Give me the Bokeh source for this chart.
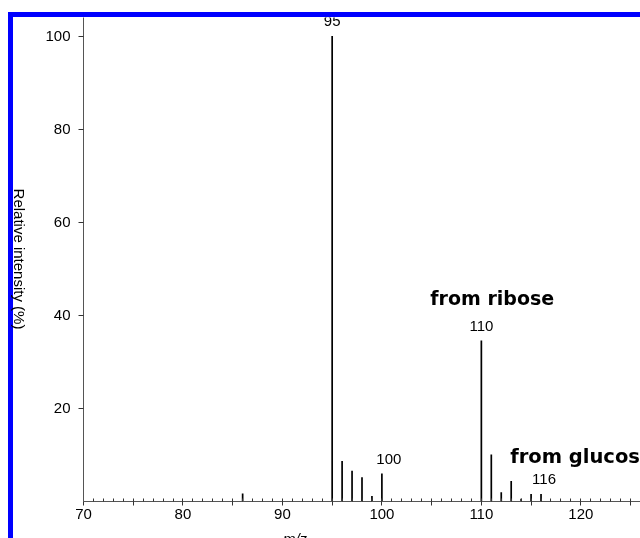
from bokeh.plotting import figure
from bokeh.models import ColumnDataSource, FixedTicker, Label, Range1d, Div
from bokeh.core.properties import value
from bokeh.embed import file_html
from bokeh.resources import INLINE

# ---- data ----
mz = [86, 95, 96, 97, 98, 99, 100, 110, 111, 112, 113, 114, 115, 116]
intensity = [1.7, 100, 8.7, 6.6, 5.2, 1.2, 6.0, 34.6, 10.1, 2.0, 4.4, 0.6, 1.6, 1.6]

peak_label_mz = [95, 100, 110, 116]
peak_label_text = ["95", "100", "110", "116"]
peak_label_x = [95, 100.7, 110, 116.3]

x_ticks = [70, 75, 80, 85, 90, 95, 100, 105, 110, 115, 120, 125]
x_tick_labels = {70: "70", 80: "80", 90: "90", 100: "100", 110: "110", 120: "120"}
y_ticks = [20, 40, 60, 80, 100]
y_title = "Relative intensity (%)"
x_title = "m/z"

FONT = "Liberation Sans"

p = figure(frame_width=557, frame_height=484, output_backend="svg", toolbar_location=None,
           x_range=Range1d(70, 126), y_range=Range1d(0, 104),
           min_border_left=70, min_border_right=0, min_border_top=0, min_border_bottom=37)
p.styles = {"position": "fixed", "left": "8px", "top": "12px", "margin": "0",
            "border-left": "5px solid #0000ff", "border-top": "5px solid #0000ff",
            "box-sizing": "content-box"}
p.background_fill_color = "white"
p.border_fill_color = "white"
p.outline_line_color = None
p.xgrid.visible = False
p.ygrid.visible = False

src = ColumnDataSource(dict(x=mz, y0=[0] * len(mz), y1=intensity))
p.segment(x0="x", y0="y0", x1="x", y1="y1", source=src, line_color="black", line_width=1.7)

lookup = dict(zip(mz, intensity))
lab = ColumnDataSource(dict(x=peak_label_x,
                            y=[lookup[m] + 3.2 for m in peak_label_mz],
                            t=peak_label_text))
p.text(x="x", y="y", text="t", source=lab, text_align="center", text_baseline="alphabetic",
       text_font=value(FONT), text_font_size="15px", text_color="black")

# annotations inside the frame
p.add_layout(Label(x=104.87, y=43.7, text="from ribose", text_align="left",
                   text_baseline="alphabetic", text_font="DejaVu Sans",
                   text_font_style="bold", text_font_size="19px", text_color="black"))
p.add_layout(Label(x=112.9, y=9.6, text="from glucose", text_align="left",
                   text_baseline="alphabetic", text_font="DejaVu Sans",
                   text_font_style="bold", text_font_size="19.5px", text_color="black"))

# x axis
xa = p.xaxis[0]
xa.ticker = FixedTicker(ticks=x_ticks, minor_ticks=list(range(70, 127)))
xa.major_label_overrides = {t: x_tick_labels.get(t, "") for t in x_ticks}
xa.axis_line_color = "#555555"
xa.major_tick_line_color = "#333333"
xa.minor_tick_line_color = "#333333"
xa.major_tick_out = 4
xa.major_tick_in = 0
xa.minor_tick_out = 0
xa.minor_tick_in = 3
xa.major_label_standoff = 3
xa.major_label_text_font = FONT
xa.major_label_text_font_size = "15px"
xa.major_label_text_color = "black"

# y axis
ya = p.yaxis[0]
ya.ticker = FixedTicker(ticks=y_ticks, minor_ticks=[])
ya.axis_line_color = "#555555"
ya.major_tick_line_color = "#333333"
ya.major_tick_out = 5
ya.major_tick_in = 0
ya.minor_tick_out = 0
ya.minor_tick_in = 0
ya.major_label_standoff = 8
ya.major_label_text_font = FONT
ya.major_label_text_font_size = "15px"
ya.major_label_text_color = "black"

# axis titles (rotated y title reading downward, x title cut by the window bottom)
ytitle = Div(text=f'<span style="font-family: \'{FONT}\'; font-size: 15px; color: black;">{y_title}</span>',
             width=160, height=18,
             styles={"position": "fixed", "left": "-61px", "top": "250px", "margin": "0",
                     "text-align": "center", "line-height": "18px", "white-space": "nowrap",
                     "transform": "rotate(90deg)", "transform-origin": "50% 50%"})
xtitle = Div(text=f'<span style="font-family: \'{FONT}\'; font-size: 15px; font-style: italic; color: black;">{x_title}</span>',
             width=40, height=18,
             styles={"position": "fixed", "left": "275px", "top": "530px", "margin": "0",
                     "text-align": "center", "line-height": "18px", "white-space": "nowrap"})

open("out.html", "w").write(file_html([p, ytitle, xtitle], INLINE))
